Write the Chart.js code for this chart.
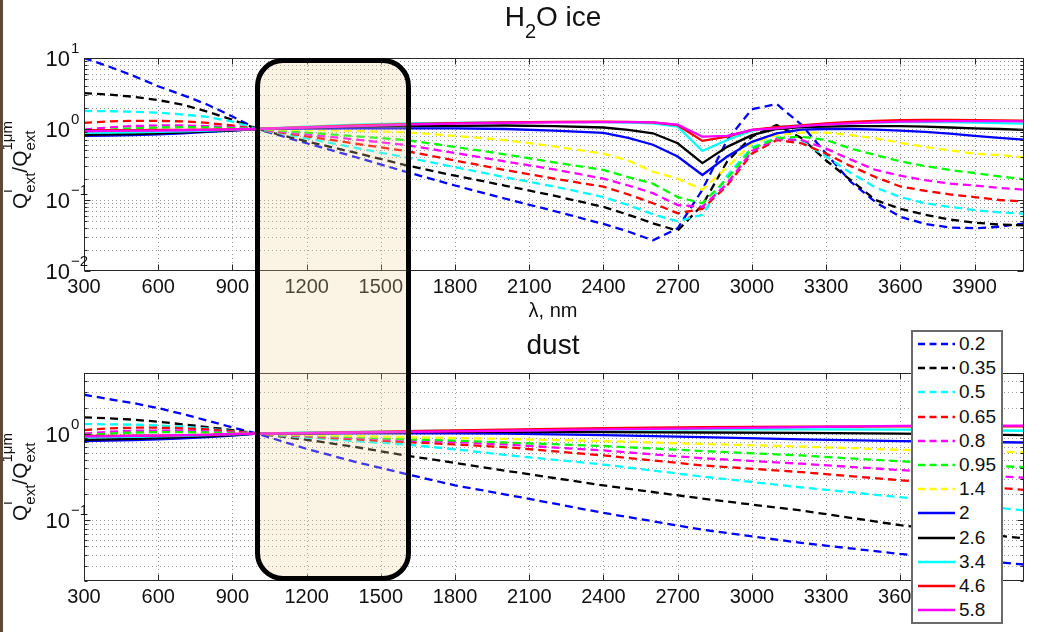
<!DOCTYPE html>
<html>
<head>
<meta charset="utf-8">
<script src="https://cdn.jsdelivr.net/npm/chart.js@4.4.1/dist/chart.umd.min.js"></script>
<style>
html, body { margin: 0; padding: 0; background: #fff; }
#page { position: relative; width: 1060px; height: 632px; overflow: hidden; background: #fff;
        font-family: "Liberation Sans", Arial, Helvetica, sans-serif; color: #111; }
canvas { position: absolute; left: 0; }
#strip { position: absolute; left: 0; top: 0; width: 3px; height: 632px; background: #5c4a34; z-index: 5; }
.title { position: absolute; width: 300px; text-align: center; font-size: 28px; line-height: 28px; white-space: nowrap; }
.title sub { font-size: 20px; vertical-align: -12px; line-height: 0; }
.xlab { position: absolute; width: 200px; text-align: center; font-size: 20px; line-height: 20px; white-space: nowrap; }
.ylab { position: absolute; font-size: 21px; line-height: 21px; white-space: nowrap;
        transform: translate(-50%, -50%) rotate(-90deg); }
.ss { display: inline-block; font-size: 15px; line-height: 23px; vertical-align: -8px; text-align: left; }
#hl { position: absolute; box-sizing: border-box; border: 5px solid #000; border-radius: 28px;
      background: rgba(240, 215, 160, 0.27); z-index: 3; }
#legend { position: absolute; left: 911px; top: 330px; width: 92px; height: 294px; box-sizing: border-box;
          border: 2px solid #6a6a6a; background: #fff; z-index: 4; }
.lrow { display: flex; align-items: center; height: 24.2px; font-size: 19px; color: #111; }
.lrow svg { flex: none; }
</style>
</head>
<body>
<div id="page">
  <canvas id="cIce" width="1060" height="320" style="top:0;width:1060px;height:320px"></canvas>
  <canvas id="cDust" width="1060" height="312" style="top:320px;width:1060px;height:312px"></canvas>
  <div class="title" style="left:403px;top:3px">H<sub>2</sub>O ice</div>
  <div class="xlab" style="left:453px;top:300px">λ, nm</div>
  <div class="title" style="left:403px;top:331px">dust</div>
  <div class="ylab" id="ylabIce">Q<span class="ss">i<br>ext</span>/Q<span class="ss">1μm<br>ext</span></div>
  <div class="ylab" id="ylabDust">Q<span class="ss">i<br>ext</span>/Q<span class="ss">1μm<br>ext</span></div>
  <div id="hl"></div>
  <div id="legend"></div>
  <div id="strip"></div>
</div>
<script>
const FONT = '"Liberation Sans", Arial, Helvetica, sans-serif';

// ---- series definitions (particle sizes, µm) ----
const sizeLabels = ['0.2', '0.35', '0.5', '0.65', '0.8', '0.95', '1.4', '2', '2.6', '3.4', '4.6', '5.8'];
const lineColors = ['#0000ff', '#000000', '#00ffff', '#ff0000', '#ff00ff', '#00ff00', '#ffff00',
                    '#0000ff', '#000000', '#00ffff', '#ff0000', '#ff00ff'];
const isDashed = [true, true, true, true, true, true, true, false, false, false, false, false];

// ---- axes ----
const xTickValues = [300, 600, 900, 1200, 1500, 1800, 2100, 2400, 2700, 3000, 3300, 3600, 3900];
const xRange = [300, 4100];
const iceYRange = [0.01, 10];
const iceYMajor = [0.01, 0.1, 1, 10];
const iceYExp = ['\u22122', '\u22121', '0', '1'];
const dustYRange = [0.02, 5];
const dustYMajor = [0.1, 1];
const dustYExp = ['\u22121', '0'];
const highlightRange = [992, 1622];

// ---- H2O ice panel ----
const iceX = [300, 400, 500, 600, 700, 800, 900, 1000, 1200, 1400, 1600, 1800, 2000, 2200, 2400, 2500,
              2600, 2700, 2800, 2900, 3000, 3100, 3200, 3300, 3400, 3500, 3600, 3700, 3800, 3900, 4000, 4100];
const ice_0_2  = [10, 7.6, 5.6, 4.0, 3.0, 2.2, 1.5, 1.0, 0.63, 0.40, 0.25, 0.16, 0.105, 0.07, 0.046, 0.036,
                  0.027, 0.04, 0.14, 0.7, 1.9, 2.25, 1.15, 0.45, 0.18, 0.093, 0.058, 0.046, 0.041, 0.04, 0.042, 0.047];
const ice_0_35 = [3.2, 3.05, 2.85, 2.55, 2.2, 1.75, 1.35, 1.0, 0.67, 0.46, 0.31, 0.22, 0.16, 0.115, 0.08, 0.062,
                  0.047, 0.037, 0.085, 0.35, 0.78, 1.14, 0.75, 0.36, 0.19, 0.1, 0.075, 0.062, 0.053, 0.048, 0.045, 0.044];
const ice_0_5  = [1.8, 1.78, 1.75, 1.7, 1.6, 1.48, 1.27, 1.0, 0.74, 0.54, 0.40, 0.29, 0.21, 0.155, 0.11, 0.085,
                  0.063, 0.05, 0.062, 0.22, 0.55, 0.76, 0.68, 0.41, 0.24, 0.15, 0.11, 0.09, 0.08, 0.072, 0.067, 0.064];
const ice_0_65 = [1.22, 1.28, 1.3, 1.3, 1.28, 1.22, 1.12, 1.0, 0.79, 0.62, 0.49, 0.36, 0.265, 0.2, 0.154, 0.12,
                  0.09, 0.065, 0.075, 0.16, 0.45, 0.7, 0.63, 0.45, 0.3, 0.21, 0.155, 0.135, 0.12, 0.11, 0.1, 0.095];
const ice_0_8  = [0.98, 1.05, 1.1, 1.12, 1.12, 1.1, 1.06, 1.0, 0.84, 0.71, 0.595, 0.46, 0.35, 0.27, 0.2, 0.16,
                  0.125, 0.085, 0.08, 0.17, 0.49, 0.72, 0.7, 0.53, 0.37, 0.265, 0.22, 0.19, 0.17, 0.16, 0.148, 0.14];
const ice_0_95 = [0.93, 0.98, 1.02, 1.05, 1.06, 1.05, 1.03, 1.0, 0.89, 0.79, 0.70, 0.56, 0.44, 0.34, 0.265, 0.21,
                  0.17, 0.11, 0.09, 0.2, 0.53, 0.74, 0.78, 0.7, 0.53, 0.43, 0.35, 0.3, 0.265, 0.24, 0.215, 0.196];
const ice_1_4  = [0.85, 0.87, 0.9, 0.92, 0.95, 0.97, 0.99, 1.0, 0.97, 0.94, 0.9, 0.8, 0.7, 0.57, 0.45, 0.36,
                  0.25, 0.2, 0.14, 0.29, 0.63, 0.82, 0.89, 0.89, 0.82, 0.74, 0.64, 0.56, 0.5, 0.45, 0.43, 0.4];
const ice_2    = [0.8, 0.81, 0.82, 0.84, 0.87, 0.91, 0.95, 1.0, 1.01, 1.02, 1.02, 1.02, 1.0, 0.95, 0.88, 0.75,
                  0.6, 0.41, 0.225, 0.41, 0.66, 0.87, 0.98, 1.0, 1.0, 0.98, 0.95, 0.91, 0.86, 0.8, 0.75, 0.71];
const ice_2_6  = [0.83, 0.84, 0.85, 0.87, 0.9, 0.93, 0.96, 1.0, 1.05, 1.08, 1.1, 1.11, 1.12, 1.1, 1.05, 0.97,
                  0.87, 0.63, 0.33, 0.56, 0.82, 1.0, 1.06, 1.08, 1.1, 1.1, 1.1, 1.08, 1.05, 1.02, 1.0, 0.97];
const ice_3_4  = [0.88, 0.89, 0.9, 0.91, 0.93, 0.95, 0.97, 1.0, 1.08, 1.15, 1.2, 1.22, 1.24, 1.25, 1.25, 1.23,
                  1.2, 1.08, 0.49, 0.7, 0.95, 1.06, 1.12, 1.18, 1.2, 1.23, 1.25, 1.25, 1.25, 1.23, 1.21, 1.19];
const ice_4_6  = [0.96, 0.96, 0.96, 0.97, 0.97, 0.98, 0.99, 1.0, 1.06, 1.12, 1.17, 1.21, 1.24, 1.26, 1.27, 1.26,
                  1.24, 1.13, 0.68, 0.78, 0.97, 1.06, 1.12, 1.2, 1.26, 1.3, 1.33, 1.34, 1.34, 1.33, 1.32, 1.31];
const ice_5_8  = [0.93, 0.94, 0.95, 0.95, 0.96, 0.97, 0.99, 1.0, 1.05, 1.1, 1.15, 1.19, 1.22, 1.24, 1.25, 1.25,
                  1.24, 1.15, 0.78, 0.8, 0.97, 1.02, 1.1, 1.16, 1.2, 1.24, 1.27, 1.28, 1.29, 1.29, 1.29, 1.28];
const iceSeries = [ice_0_2, ice_0_35, ice_0_5, ice_0_65, ice_0_8, ice_0_95, ice_1_4,
                   ice_2, ice_2_6, ice_3_4, ice_4_6, ice_5_8];

// ---- dust panel ----
const dustX = [300, 400, 500, 600, 700, 800, 900, 1000, 1200, 1400, 1600, 1800, 2000, 2400, 2800, 3200, 3600, 4100];
const dust_0_2  = [2.81, 2.5, 2.25, 1.97, 1.68, 1.41, 1.18, 1.0, 0.667, 0.47, 0.344, 0.253, 0.2, 0.122, 0.078, 0.055, 0.041, 0.031];
const dust_0_35 = [1.54, 1.5, 1.45, 1.37, 1.28, 1.19, 1.1, 1.0, 0.85, 0.7, 0.56, 0.46, 0.375, 0.253, 0.178, 0.13, 0.088, 0.062];
const dust_0_5  = [1.29, 1.28, 1.27, 1.24, 1.2, 1.14, 1.07, 1.0, 0.9, 0.82, 0.75, 0.66, 0.57, 0.44, 0.32, 0.24, 0.185, 0.13];
const dust_0_65 = [1.1, 1.15, 1.17, 1.17, 1.15, 1.12, 1.06, 1.0, 0.93, 0.86, 0.8, 0.75, 0.7, 0.56, 0.43, 0.36, 0.29, 0.225];
const dust_0_8  = [1.0, 1.05, 1.08, 1.08, 1.08, 1.06, 1.03, 1.0, 0.95, 0.89, 0.84, 0.8, 0.75, 0.64, 0.52, 0.45, 0.38, 0.31];
const dust_0_95 = [0.96, 1.0, 1.03, 1.04, 1.04, 1.03, 1.02, 1.0, 0.96, 0.91, 0.86, 0.83, 0.79, 0.72, 0.63, 0.56, 0.48, 0.41];
const dust_1_4  = [0.9, 0.91, 0.93, 0.94, 0.96, 0.97, 0.99, 1.0, 0.97, 0.94, 0.91, 0.89, 0.87, 0.82, 0.76, 0.71, 0.65, 0.61];
const dust_2    = [0.82, 0.83, 0.84, 0.86, 0.88, 0.91, 0.95, 1.0, 1.0, 1.01, 1.01, 1.01, 1.0, 0.96, 0.91, 0.86, 0.82, 0.79];
const dust_2_6  = [0.85, 0.86, 0.87, 0.89, 0.91, 0.93, 0.96, 1.0, 1.01, 1.03, 1.04, 1.05, 1.05, 1.04, 1.03, 1.02, 1.0, 0.96];
const dust_3_4  = [0.9, 0.91, 0.92, 0.93, 0.94, 0.96, 0.98, 1.0, 1.03, 1.05, 1.07, 1.08, 1.09, 1.11, 1.12, 1.12, 1.11, 1.08];
const dust_4_6  = [0.94, 0.94, 0.95, 0.95, 0.96, 0.97, 0.99, 1.0, 1.02, 1.04, 1.07, 1.09, 1.11, 1.16, 1.19, 1.2, 1.21, 1.21];
const dust_5_8  = [0.93, 0.93, 0.94, 0.95, 0.96, 0.97, 0.99, 1.0, 1.01, 1.03, 1.05, 1.06, 1.08, 1.12, 1.15, 1.19, 1.23, 1.24];
const dustSeries = [dust_0_2, dust_0_35, dust_0_5, dust_0_65, dust_0_8, dust_0_95, dust_1_4,
                    dust_2, dust_2_6, dust_3_4, dust_4_6, dust_5_8];

const DASH = [8, 5];
const LINE_W = 2.3;

function logGridValues(min, max) {
  const out = [];
  for (let e = -3; e <= 2; e++) {
    for (let m = 1; m <= 9; m++) {
      const v = parseFloat((m * Math.pow(10, e)).toPrecision(3));
      if (v >= min * 0.999 && v <= max * 1.001) out.push(v);
    }
  }
  return out;
}

function axesPlugin(gridVals, majorVals, exps) {
  const isMajor = v => majorVals.some(m => Math.abs(m - v) / m < 1e-6);
  return {
    id: 'matlabAxes',
    beforeDatasetsDraw(chart) {
      const { ctx, chartArea: a } = chart;
      const xs = chart.scales.x, ys = chart.scales.y;
      ctx.save();
      ctx.strokeStyle = '#9a9a9a';
      ctx.lineWidth = 1;
      ctx.setLineDash([1, 3]);
      ctx.beginPath();
      xTickValues.forEach(v => {
        const p = Math.round(xs.getPixelForValue(v)) + 0.5;
        if (p > a.left + 1 && p < a.right - 1) { ctx.moveTo(p, a.top); ctx.lineTo(p, a.bottom); }
      });
      gridVals.forEach(v => {
        const p = Math.round(ys.getPixelForValue(v)) + 0.5;
        if (p > a.top + 1 && p < a.bottom - 1) { ctx.moveTo(a.left, p); ctx.lineTo(a.right, p); }
      });
      ctx.stroke();
      ctx.restore();
    },
    afterDatasetsDraw(chart) {
      const { ctx, chartArea: a } = chart;
      const xs = chart.scales.x, ys = chart.scales.y;
      const L = Math.round(a.left) + 0.5, R = Math.round(a.right) - 0.5;
      const T = Math.round(a.top) + 0.5, B = Math.round(a.bottom) - 0.5;
      ctx.save();
      ctx.setLineDash([]);
      ctx.strokeStyle = '#262626';
      ctx.lineWidth = 1;
      ctx.strokeRect(L, T, R - L, B - T);
      ctx.beginPath();
      xTickValues.forEach(v => {
        const p = Math.round(xs.getPixelForValue(v)) + 0.5;
        ctx.moveTo(p, B); ctx.lineTo(p, B - 6);
        ctx.moveTo(p, T); ctx.lineTo(p, T + 6);
      });
      gridVals.forEach(v => {
        const p = Math.round(ys.getPixelForValue(v)) + 0.5;
        const len = isMajor(v) ? 6 : 3;
        ctx.moveTo(L, p); ctx.lineTo(L + len, p);
        ctx.moveTo(R, p); ctx.lineTo(R - len, p);
      });
      ctx.stroke();
      ctx.fillStyle = '#111';
      majorVals.forEach((v, i) => {
        const p = ys.getPixelForValue(v);
        ctx.font = '22px ' + FONT;
        ctx.textAlign = 'right';
        ctx.textBaseline = 'alphabetic';
        ctx.fillText('10', 70, p + 8);
        ctx.font = '15px ' + FONT;
        ctx.textAlign = 'left';
        ctx.fillText(exps[i], 71, p - 5);
      });
      ctx.restore();
    }
  };
}

function makeChart(canvasId, xs, series, yRange, majorVals, exps, areaTop, axisH) {
  const n = series.length;
  return new Chart(document.getElementById(canvasId), {
    type: 'line',
    data: {
      datasets: series.map((s, i) => ({
        label: sizeLabels[i],
        data: xs.map((x, j) => ({ x: x, y: s[j] })),
        borderColor: lineColors[i],
        backgroundColor: lineColors[i],
        borderWidth: LINE_W,
        borderDash: isDashed[i] ? DASH : [],
        pointRadius: 0,
        tension: 0,
        fill: false,
        order: n - 1 - i
      }))
    },
    options: {
      responsive: false,
      animation: false,
      devicePixelRatio: 1,
      layout: { padding: { left: 0, right: 36, top: areaTop, bottom: 0 } },
      plugins: { legend: { display: false }, tooltip: { enabled: false }, title: { display: false } },
      scales: {
        x: {
          type: 'linear', min: xRange[0], max: xRange[1],
          afterBuildTicks: sc => { sc.ticks = xTickValues.map(v => ({ value: v })); },
          afterFit: sc => { sc.height = axisH; },
          grid: { display: false, drawTicks: false },
          border: { display: false },
          ticks: { font: { family: FONT, size: 20 }, color: '#111', padding: 4,
                   maxRotation: 0, minRotation: 0, autoSkip: false,
                   callback: v => String(v) }
        },
        y: {
          type: 'logarithmic', min: yRange[0], max: yRange[1],
          afterFit: sc => { sc.width = 84; },
          grid: { display: false, drawTicks: false },
          border: { display: false },
          ticks: { display: false }
        }
      }
    },
    plugins: [axesPlugin(logGridValues(yRange[0], yRange[1]), majorVals, exps)]
  });
}

const chartIce = makeChart('cIce', iceX, iceSeries, iceYRange, iceYMajor, iceYExp, 58, 49);
const chartDust = makeChart('cDust', dustX, dustSeries, dustYRange, dustYMajor, dustYExp, 53, 51);

// y-axis labels centred on each plot area
const yl1 = document.getElementById('ylabIce');
yl1.style.left = '18px';
yl1.style.top = ((chartIce.chartArea.top + chartIce.chartArea.bottom) / 2) + 'px';
const yl2 = document.getElementById('ylabDust');
yl2.style.left = '18px';
yl2.style.top = (320 + (chartDust.chartArea.top + chartDust.chartArea.bottom) / 2) + 'px';

// highlighted wavelength band
const hl = document.getElementById('hl');
const hx0 = chartIce.scales.x.getPixelForValue(highlightRange[0]);
const hx1 = chartIce.scales.x.getPixelForValue(highlightRange[1]);
const hy0 = chartIce.chartArea.top;
const hy1 = 320 + chartDust.chartArea.bottom;
hl.style.left = hx0 + 'px';
hl.style.width = (hx1 - hx0) + 'px';
hl.style.top = hy0 + 'px';
hl.style.height = (hy1 - hy0) + 'px';

// legend
const legend = document.getElementById('legend');
sizeLabels.forEach((lab, i) => {
  const row = document.createElement('div');
  row.className = 'lrow';
  const dash = isDashed[i] ? ' stroke-dasharray="7 4.5"' : '';
  row.innerHTML = '<svg width="46" height="8"><line x1="5" y1="4" x2="42" y2="4" stroke="' + lineColors[i] +
                  '" stroke-width="2.3"' + dash + '/></svg><span>' + lab + '</span>';
  legend.appendChild(row);
});
</script>
</body>
</html>
